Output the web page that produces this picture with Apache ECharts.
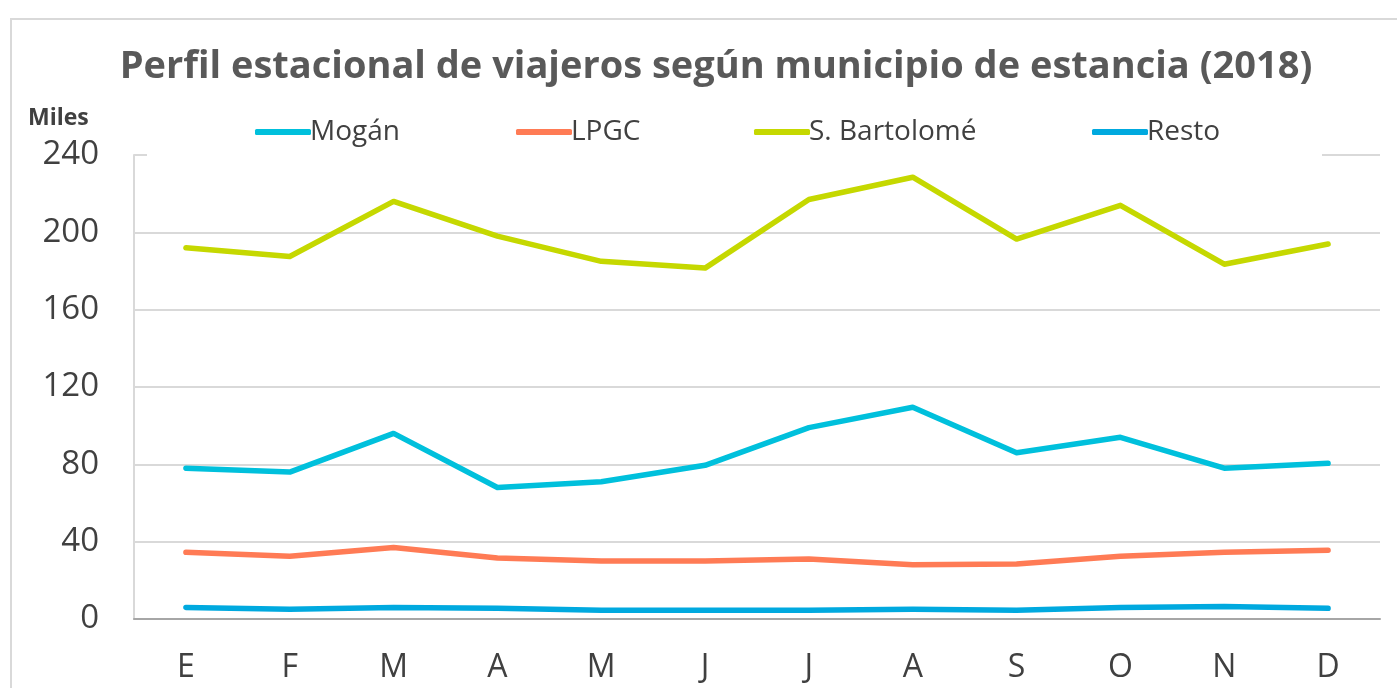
<!DOCTYPE html>
<html>
<head>
<meta charset="utf-8">
<title>Perfil estacional de viajeros</title>
<script src="https://cdn.jsdelivr.net/npm/echarts@6/dist/echarts.min.js"></script>
<style>
	html, body { margin: 0; padding: 0; background: #fff; }
	#chart { width: 1397px; height: 688px; }
</style>
</head>
<body>
<div id="chart"></div>
<script>
// meses (iniciales)
var months = ['E', 'F', 'M', 'A', 'M', 'J', 'J', 'A', 'S', 'O', 'N', 'D']

// viajeros, miles
var mogan = [78, 76, 96, 68, 71, 79.5, 99, 109.5, 86, 94, 78, 80.5]
var lpgc = [34.5, 32.5, 37, 31.5, 30, 30, 31, 28, 28.5, 32.5, 34.5, 35.5]
var bartolome = [192, 187.5, 216, 198, 185, 181.5, 217, 228.5, 196.5, 214, 183.5, 194]
var resto = [6, 5, 6, 5.5, 4.5, 4.5, 4.5, 5, 4.5, 6, 6.5, 5.5]

var yTicks = [0, 40, 80, 120, 160, 200, 240]

var seriesNames = ['Mogán', 'LPGC', 'S. Bartolomé', 'Resto']
var seriesColors = ['#00C0DC', '#FF7B55', '#C5D800', '#00A9DF']

var FONT = '"Open Sans", "Noto Sans", sans-serif'

var chart = echarts.init(document.getElementById('chart'))

function legendFor(name, left) {
	return {
		data: [name],
		left: left,
		top: 113,
		icon: 'roundRect',
		itemWidth: 56,
		itemHeight: 6,
		itemGap: 0,
		textStyle: {
			fontFamily: FONT,
			fontSize: 28,
			color: '#404040',
			padding: [0, 0, 0, -6]
		}
	}
}

function lineSeries(name, data, i) {
	return {
		name: name,
		type: 'line',
		data: data,
		symbol: 'none',
		smooth: false,
		z: 3 + i,
		lineStyle: {
			color: seriesColors[i],
			width: 5.5,
			cap: 'round',
			join: 'round'
		},
		itemStyle: { color: seriesColors[i] }
	}
}

chart.setOption({
	animation: false,
	backgroundColor: '#fff',
	title: {
		text: 'Perfil estacional de viajeros según municipio de estancia (2018)',
		left: 711,
		top: 43,
		textAlign: 'center',
		textStyle: {
			fontFamily: FONT,
			fontSize: 38,
			fontWeight: 'bold',
			color: '#595959'
		}
	},
	legend: [
		legendFor('Mogán', 250),
		legendFor('LPGC', 511),
		legendFor('S. Bartolomé', 749),
		legendFor('Resto', 1087)
	],
	grid: {
		left: 134,
		right: 17,
		top: 155,
		bottom: 69,
		containLabel: false
	},
	xAxis: {
		type: 'category',
		data: months,
		boundaryGap: true,
		axisTick: { show: false },
		axisLine: {
			lineStyle: { color: '#A6A6A6', width: 2 }
		},
		axisLabel: {
			margin: 33,
			fontFamily: FONT,
			fontSize: 32,
			color: '#404040'
		}
	},
	yAxis: {
		type: 'value',
		min: yTicks[0],
		max: yTicks[yTicks.length - 1],
		interval: 40,
		axisTick: { show: false },
		axisLine: {
			show: true,
			lineStyle: { color: '#D9D9D9', width: 2 }
		},
		splitLine: {
			lineStyle: { color: '#D9D9D9', width: 2 }
		},
		axisLabel: {
			margin: 35,
			fontFamily: FONT,
			fontSize: 33,
			color: '#404040'
		}
	},
	graphic: [
		// marco del gráfico
		{
			type: 'rect',
			shape: { x: 11, y: 19, width: 1500, height: 800 },
			style: { fill: 'none', stroke: '#D9D9D9', lineWidth: 2 },
			silent: true,
			z: 0
		},
		// fondo blanco de la leyenda tapando la línea de 240
		{
			type: 'rect',
			shape: { x: 147, y: 148, width: 1175, height: 12 },
			style: { fill: '#fff' },
			silent: true,
			z: 10
		},
		{
			type: 'text',
			left: 28,
			top: 107,
			style: {
				text: 'Miles',
				fontFamily: FONT,
				fontSize: 23,
				fontWeight: 'bold',
				fill: '#404040'
			},
			z: 10
		}
	],
	series: [
		lineSeries(seriesNames[0], mogan, 0),
		lineSeries(seriesNames[1], lpgc, 1),
		lineSeries(seriesNames[2], bartolome, 2),
		lineSeries(seriesNames[3], resto, 3)
	]
})
</script>
</body>
</html>
